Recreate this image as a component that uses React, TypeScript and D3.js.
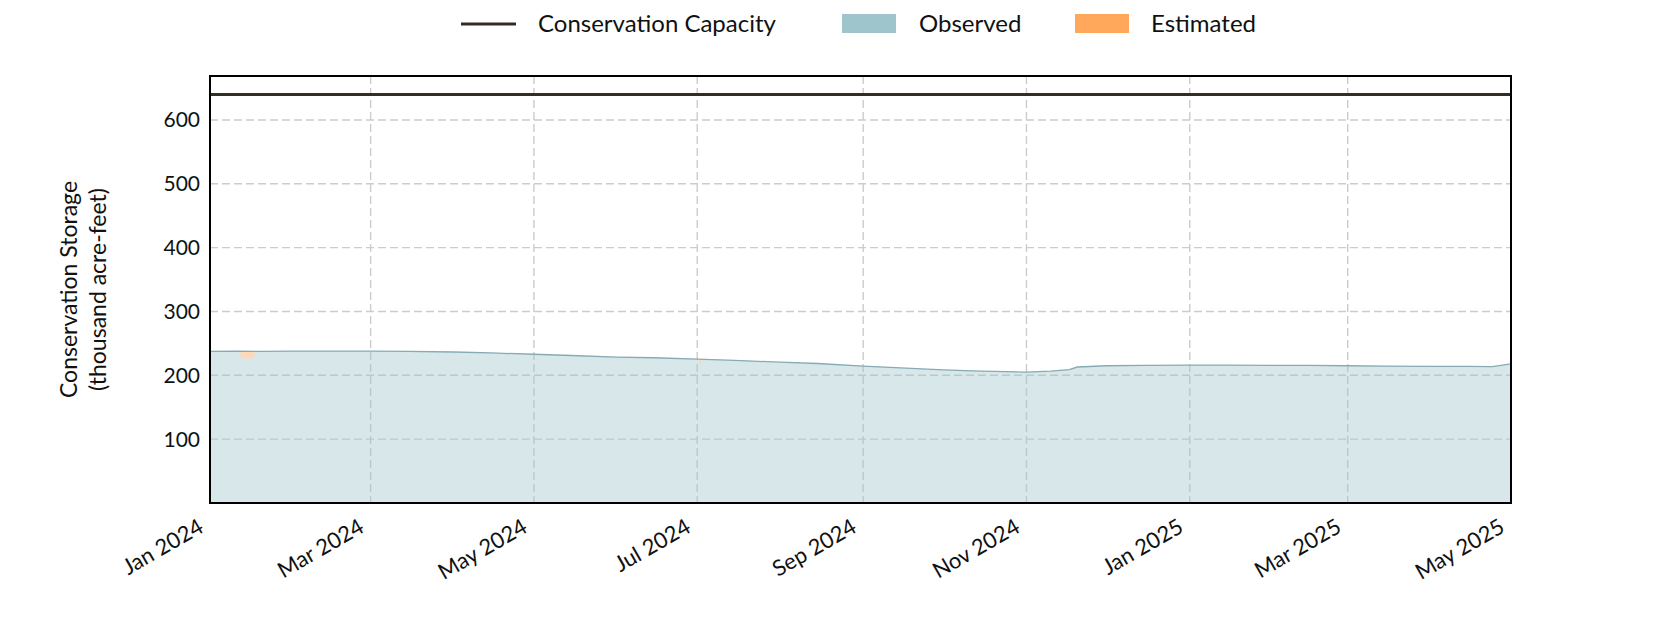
import React, { useEffect, useRef } from 'react';
import * as d3 from 'd3';

// Conservation storage, thousand acre-feet
const storageDates = [
  '2024-01-01', '2024-01-10', '2024-01-20', '2024-02-01', '2024-02-15', '2024-03-01',
  '2024-03-15', '2024-04-01', '2024-04-15', '2024-05-01', '2024-05-15', '2024-06-01',
  '2024-06-15', '2024-07-01', '2024-07-15', '2024-08-01', '2024-08-15', '2024-09-01',
  '2024-09-15', '2024-10-01', '2024-10-15', '2024-11-01', '2024-11-10', '2024-11-17',
  '2024-11-20', '2024-12-01', '2024-12-15', '2025-01-01', '2025-01-15', '2025-02-01',
  '2025-02-15', '2025-03-01', '2025-03-15', '2025-04-01', '2025-04-15', '2025-04-24',
  '2025-05-01',
];
const storageValues = [
  237.5, 238, 237.5, 238, 238, 238,
  237.5, 236.5, 235, 233, 231, 228.5,
  227.5, 225.5, 223.5, 220.5, 218.5, 214.5,
  211.5, 208.5, 206.5, 205, 206.5, 209,
  213, 215, 215.5, 216, 216, 215.5,
  215.5, 215, 214.5, 214, 214, 213.5,
  218,
];

// estimated segments (gap in observed record)
const estDates = ['2024-01-12', '2024-01-13', '2024-01-17', '2024-01-18'];
const estTop = [237.8, 237.7, 237.6, 237.6];
const estBase = [237.8, 226.5, 226.5, 237.6];
const est2Dates = ['2024-07-01', '2024-07-02', '2024-07-03'];
const est2Top = [225.5, 225.3, 225.1];
const est2Base = [225.5, 217, 225.1];

const capacity = 640;
const xTickDates = [
  '2024-01-01', '2024-03-01', '2024-05-01', '2024-07-01', '2024-09-01',
  '2024-11-01', '2025-01-01', '2025-03-01', '2025-05-01',
];
const yTicks = [100, 200, 300, 400, 500, 600];

const W = 1680;
const H = 630;
const FONT = 'Lato, "Open Sans", sans-serif';

const App: React.FC = () => {
  const svgRef = useRef<SVGSVGElement>(null);

  useEffect(() => {
    document.body.style.margin = '0';
    if (!svgRef.current) return;
    const svg = d3.select(svgRef.current);
    svg.selectAll('*').remove();

    const parse = d3.utcParse('%Y-%m-%d');
    const m = { left: 210, right: 169, top: 76, bottom: 127 };

    const x = d3.scaleUtc()
      .domain([parse('2024-01-01')!, parse('2025-05-01')!])
      .range([m.left, W - m.right]);
    const y = d3.scaleLinear()
      .domain([0, capacity * 1.045])
      .range([H - m.bottom, m.top]);

    const series = storageDates.map((d, i) => ({ date: parse(d)!, v: storageValues[i] }));

    // grid
    const grid = svg.append('g');
    grid.selectAll('line.gx')
      .data(xTickDates.map(d => parse(d)!))
      .enter()
      .append('line')
      .attr('x1', d => x(d)).attr('x2', d => x(d))
      .attr('y1', m.top).attr('y2', H - m.bottom)
      .attr('stroke', '#cccccc')
      .attr('stroke-width', 1.4)
      .attr('stroke-dasharray', '8,4');
    grid.selectAll('line.gy')
      .data(yTicks)
      .enter()
      .append('line')
      .attr('x1', m.left).attr('x2', W - m.right)
      .attr('y1', d => y(d)).attr('y2', d => y(d))
      .attr('stroke', '#cccccc')
      .attr('stroke-width', 1.4)
      .attr('stroke-dasharray', '8,4');

    // observed fill + line
    const area = d3.area<{ date: Date; v: number }>()
      .x(d => x(d.date))
      .y0(y(0))
      .y1(d => y(d.v));
    svg.append('path')
      .datum(series)
      .attr('d', area)
      .attr('fill', '#9fc5cc')
      .attr('fill-opacity', 0.42);

    // estimated patches
    const estArea = d3.area<{ date: Date; top: number; base: number }>()
      .x(d => x(d.date))
      .y0(d => y(d.base))
      .y1(d => y(d.top));
    [
      estDates.map((d, i) => ({ date: parse(d)!, top: estTop[i], base: estBase[i] })),
      est2Dates.map((d, i) => ({ date: parse(d)!, top: est2Top[i], base: est2Base[i] })),
    ].forEach(seg => {
      svg.append('path')
        .datum(seg)
        .attr('d', estArea)
        .attr('fill', '#fed8b8');
    });

    const line = d3.line<{ date: Date; v: number }>()
      .x(d => x(d.date))
      .y(d => y(d.v));
    svg.append('path')
      .datum(series)
      .attr('d', line)
      .attr('fill', 'none')
      .attr('stroke', '#86abb3')
      .attr('stroke-width', 1.3);

    // capacity line
    svg.append('line')
      .attr('x1', m.left).attr('x2', W - m.right)
      .attr('y1', y(capacity)).attr('y2', y(capacity))
      .attr('stroke', '#332d22')
      .attr('stroke-width', 3);

    // frame
    svg.append('rect')
      .attr('x', m.left).attr('y', m.top)
      .attr('width', W - m.left - m.right)
      .attr('height', H - m.top - m.bottom)
      .attr('fill', 'none')
      .attr('stroke', '#000')
      .attr('stroke-width', 2);

    // y tick labels
    svg.append('g')
      .selectAll('text')
      .data(yTicks)
      .enter()
      .append('text')
      .attr('x', m.left - 10)
      .attr('y', d => y(d))
      .attr('dy', '0.36em')
      .attr('text-anchor', 'end')
      .style('font-family', FONT)
      .style('font-size', '21px')
      .attr('fill', '#111')
      .text(d => d3.format('d')(d));

    // x tick labels
    const fmt = d3.utcFormat('%b %Y');
    svg.append('g')
      .selectAll('text')
      .data(xTickDates.map(d => parse(d)!))
      .enter()
      .append('text')
      .attr('transform', d => `translate(${x(d) - 5},${H - m.bottom + 28}) rotate(-30)`)
      .attr('text-anchor', 'end')
      .style('font-family', FONT)
      .style('font-size', '22px')
      .attr('fill', '#111')
      .text(d => fmt(d));

    // y axis title
    const cy = (m.top + H - m.bottom) / 2;
    const yTitle = ['Conservation Storage', '(thousand acre-feet)'];
    svg.append('g')
      .selectAll('text')
      .data(yTitle)
      .enter()
      .append('text')
      .attr('transform', (d, i) => `translate(${77 + i * 29},${cy}) rotate(-90)`)
      .attr('text-anchor', 'middle')
      .style('font-family', FONT)
      .style('font-size', '23px')
      .attr('fill', '#111')
      .text(d => d);

    // legend
    const leg = svg.append('g').style('font-family', FONT).style('font-size', '24px');
    leg.append('line')
      .attr('x1', 461).attr('x2', 516).attr('y1', 24).attr('y2', 24)
      .attr('stroke', '#332d22').attr('stroke-width', 3);
    leg.append('text').attr('x', 538).attr('y', 24).attr('dy', '0.35em').attr('fill', '#111')
      .text('Conservation Capacity');
    leg.append('rect')
      .attr('x', 842).attr('y', 14).attr('width', 54).attr('height', 19)
      .attr('fill', '#9fc5cc');
    leg.append('text').attr('x', 919).attr('y', 24).attr('dy', '0.35em').attr('fill', '#111')
      .text('Observed');
    leg.append('rect')
      .attr('x', 1075).attr('y', 14).attr('width', 54).attr('height', 19)
      .attr('fill', '#ffa85c');
    leg.append('text').attr('x', 1151).attr('y', 24).attr('dy', '0.35em').attr('fill', '#111')
      .text('Estimated');
  }, []);

  return <svg ref={svgRef} width={W} height={H} style={{ display: 'block', background: '#fff' }} />;
};

export default App;
